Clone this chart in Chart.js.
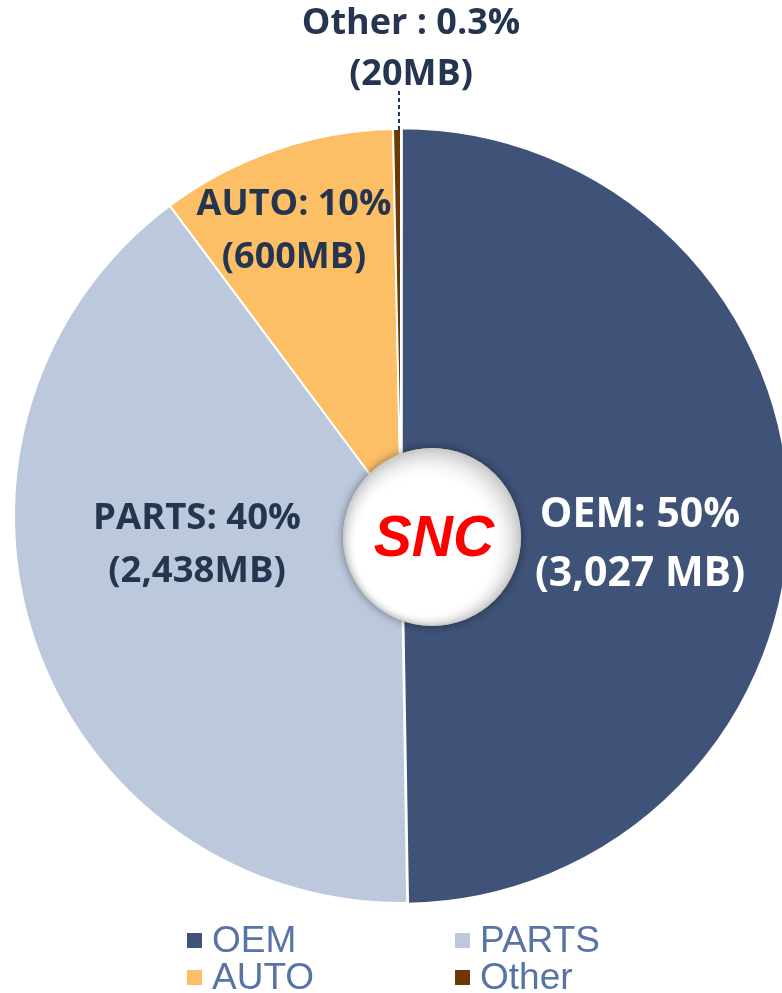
<!DOCTYPE html>
<html>
<head>
<meta charset="utf-8">
<script src="https://cdn.jsdelivr.net/npm/chart.js@4.4.0/dist/chart.umd.min.js"></script>
<style>
  html, body { margin: 0; padding: 0; background: #fff; }
  #wrap { width: 782px; height: 993px; position: relative; }
</style>
</head>
<body>
<div id="wrap"><canvas id="pieChart" width="782" height="993"></canvas></div>
<script>
// chart data
const categories = ['OEM', 'PARTS', 'AUTO', 'Other'];
const sizesMB = [3027, 2438, 600, 20];
const sliceLabels = [
    ['OEM: 50%', '(3,027 MB)'],
    ['PARTS: 40%', '(2,438MB)'],
    ['AUTO: 10%', '(600MB)'],
    ['Other : 0.3%', '(20MB)']
];
const colors = ['#3F5378', '#BCC9DD', '#FDBF65', '#6B3A00'];

const labelFont = '"Open Sans", "Noto Sans", sans-serif';

// text labels, centre logo and legend
const decorPlugin = {
    id: 'decor',
    afterDatasetsDraw(chart) {
        const ctx = chart.ctx;
        const arcs = chart.getDatasetMeta(0).data;
        const cx = arcs[1].x;
        const cy = arcs[1].y;

        // centre badge
        ctx.save();
        const bx = cx + 31, by = cy + 21, br = 89;
        ctx.shadowColor = 'rgba(0,0,0,0.45)';
        ctx.shadowBlur = 10;
        ctx.beginPath();
        ctx.arc(bx, by, br, 0, Math.PI * 2);
        ctx.fillStyle = '#fff';
        ctx.fill();
        ctx.shadowColor = 'transparent';
        const g = ctx.createRadialGradient(bx - 8, by + 10, br * 0.75, bx, by, br);
        g.addColorStop(0, 'rgba(255,255,255,0)');
        g.addColorStop(1, 'rgba(150,150,150,0.55)');
        ctx.fillStyle = g;
        ctx.fill();
        ctx.fillStyle = '#FF0000';
        ctx.font = 'italic bold 57px "Liberation Sans", Arial, sans-serif';
        ctx.textAlign = 'center';
        ctx.textBaseline = 'middle';
        ctx.fillText('SNC', bx + 2, by + 3);
        ctx.restore();

        // slice labels
        const spots = [
            { x: cx + 239, y: cy - 1, size: 41, gap: 59, color: '#FFFFFF' },
            { x: cx - 204, y: cy + 3, size: 36.5, gap: 53, color: '#253550' },
            { x: cx - 107, y: cy - 311, size: 36, gap: 53, color: '#253550' },
            { x: cx + 10, y: cy - 492, size: 36, gap: 51, color: '#253550' }
        ];
        ctx.save();
        ctx.textAlign = 'center';
        ctx.textBaseline = 'middle';
        spots.forEach((s, i) => {
            ctx.fillStyle = s.color;
            ctx.font = 'bold ' + s.size + 'px ' + labelFont;
            ctx.fillText(sliceLabels[i][0], s.x, s.y);
            ctx.fillText(sliceLabels[i][1], s.x, s.y + s.gap);
        });

        // leader line for the small slice
        ctx.strokeStyle = '#1F3864';
        ctx.lineWidth = 2;
        ctx.setLineDash([4, 3]);
        ctx.beginPath();
        ctx.moveTo(cx - 2, cy - 425);
        ctx.lineTo(cx - 2, cy - 386);
        ctx.stroke();
        ctx.restore();

        // legend, two columns
        ctx.save();
        ctx.font = '37px "Liberation Sans", Arial, sans-serif';
        ctx.textBaseline = 'middle';
        ctx.textAlign = 'left';
        const cols = [187, 455];
        const rows = [940, 977];
        categories.forEach((c, i) => {
            const lx = cols[i % 2];
            const ly = rows[Math.floor(i / 2)];
            ctx.fillStyle = colors[i];
            ctx.fillRect(lx, ly - 7, 15, 15);
            ctx.fillStyle = '#5873A6';
            ctx.fillText(c, lx + 25, ly + 2);
        });
        ctx.restore();
    }
};

new Chart(document.getElementById('pieChart'), {
    type: 'pie',
    data: {
        labels: categories,
        datasets: [{
            data: sizesMB,
            backgroundColor: colors,
            borderColor: '#ffffff',
            borderWidth: 2,
            offset: [3, 0, 0, 0]
        }]
    },
    options: {
        responsive: false,
        animation: false,
        radius: 387,
        layout: { padding: { left: 20, right: 0, top: 39, bottom: 0 } },
        plugins: {
            legend: { display: false },
            tooltip: { enabled: false }
        }
    },
    plugins: [decorPlugin]
});
</script>
</body>
</html>
